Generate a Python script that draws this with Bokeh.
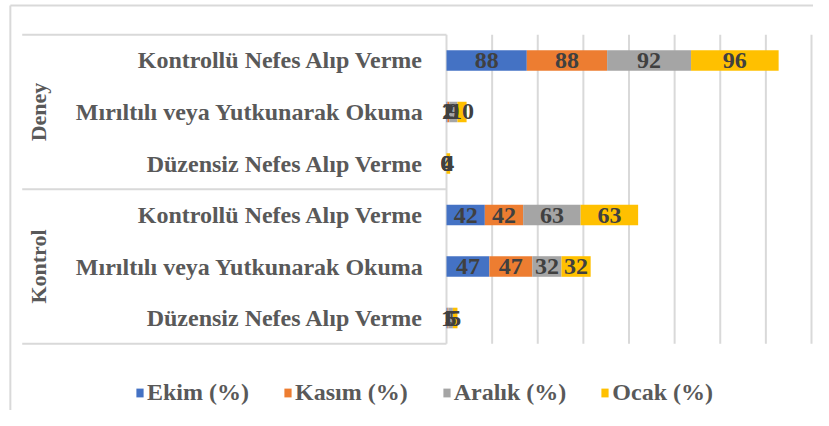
import numpy as np
from bokeh.plotting import figure
from bokeh.models import Range1d, ColumnDataSource
from bokeh.core.properties import value
from bokeh.embed import file_html
from bokeh.resources import INLINE

# ---- data ----
groups = ["Deney", "Kontrol"]
categories = ["Kontrollü Nefes Alıp Verme",
              "Mırıltılı veya Yutkunarak Okuma",
              "Düzensiz Nefes Alıp Verme"]
series = ["Ekim (%)", "Kasım (%)", "Aralık (%)", "Ocak (%)"]
colors = ["#4472C4", "#ED7D31", "#A5A5A5", "#FFC000"]
ekim = [88, 1, 0, 42, 47, 1]
kasim = [88, 2, 0, 42, 47, 1]
aralik = [92, 9, 0, 63, 32, 5]
ocak = [96, 10, 4, 63, 32, 5]
x_ticks = [0, 50, 100, 150, 200, 250, 300, 350, 400]

FONT = value("Liberation Serif")
GRID = "#d9d9d9"

n_rows = len(groups) * len(categories)
rows = list(range(n_rows))
row_labels = categories * len(groups)

keys = ["ekim", "kasim", "aralik", "ocak"]
src = ColumnDataSource(dict(row=rows, ekim=ekim, kasim=kasim, aralik=aralik, ocak=ocak))

W, H = 813, 410
p = figure(width=W, height=H, output_backend="svg", toolbar_location=None,
           x_axis_location=None, y_axis_location=None,
           x_range=Range1d(-488.8, 402.2), y_range=Range1d(6.796, -1.165),
           min_border=0, outline_line_color=None)
p.background_fill_color = "white"
p.border_fill_color = "white"
p.grid.visible = False

top, bot = -0.5, n_rows - 0.5
box_left = -465

# outer chart border (left and top)
p.segment(x0=[-478, -478], y0=[-1.07, -1.07], x1=[402.2, -478], y1=[-1.07, 6.8],
          line_color=GRID, line_width=2)

# gridlines
p.segment(x0=x_ticks, y0=[top] * len(x_ticks), x1=x_ticks, y1=[bot] * len(x_ticks),
          line_color=GRID, line_width=2)

# category axis box lines
seps = [top] + [len(categories) * (g + 1) - 0.5 for g in range(len(groups))]
p.segment(x0=[box_left] * len(seps), y0=seps, x1=[0] * len(seps), y1=seps,
          line_color=GRID, line_width=2)

# bars
rs = p.hbar_stack(keys, y="row", height=0.4, color=colors, source=src,
                  legend_label=series, line_color=None)

# data labels
vals = np.array([ekim, kasim, aralik, ocak], dtype=float)
left = np.vstack([np.zeros(n_rows), np.cumsum(vals, axis=0)[:-1]])
lx, ly, lt = [], [], []
for s in range(len(keys)):
    for r in range(n_rows):
        lx.append(left[s, r] + vals[s, r] / 2)
        ly.append(r)
        lt.append(str(int(vals[s, r])))
p.text(x=lx, y=ly, text=lt, text_align="center", text_baseline="middle",
       text_font=FONT, text_font_style="bold", text_font_size="24px",
       text_color="#404040")

# category labels
p.text(x=[-25] * n_rows, y=rows, text=row_labels, text_align="right",
       text_baseline="middle", text_font=FONT, text_font_style="bold",
       text_font_size="24px", text_color="#595959")

# group labels
gy = [g * len(categories) + (len(categories) - 1) / 2 for g in range(len(groups))]
p.text(x=[-447] * len(groups), y=gy, text=groups, angle=np.pi / 2,
       text_align="center", text_baseline="middle", text_font=FONT,
       text_font_style="bold", text_font_size="22px", text_color="#595959")

leg = p.legend[0]
leg.orientation = "horizontal"
leg.location = (135, 4)
leg.label_text_font = "Liberation Serif"
leg.label_text_font_style = "bold"
leg.label_text_font_size = "24px"
leg.label_text_color = "#595959"
leg.glyph_width = 9
leg.glyph_height = 11
leg.label_standoff = 3
leg.spacing = 34
leg.padding = 0
leg.margin = 0
leg.border_line_color = None
leg.background_fill_alpha = 0

open("out.html", "w").write(file_html(p, INLINE))
